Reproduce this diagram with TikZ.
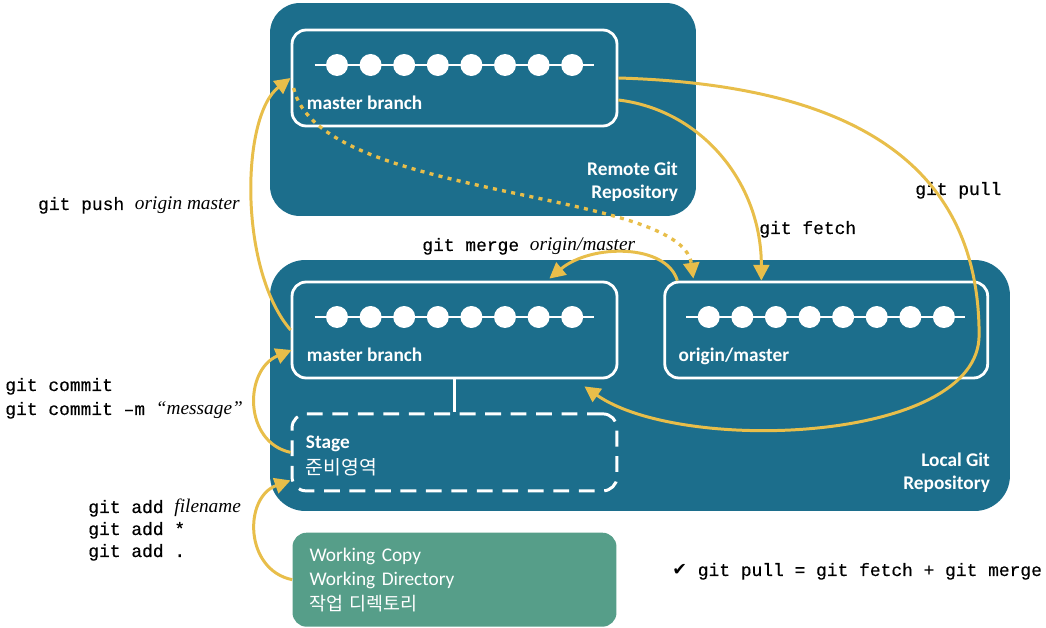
\documentclass[tikz,border=0pt]{standalone}
\usepackage{fontspec}
\setmainfont{Carlito}
\newfontfamily\codefont{Liberation Mono}[FakeBold=0.3]
\newfontfamily\argfont{Liberation Serif}
\newfontfamily\hangul{Noto Sans CJK KR}
\newfontfamily\symfont{DejaVu Sans}
\usetikzlibrary{positioning}
\usetikzlibrary{calc}
\usetikzlibrary{arrows.meta}
\definecolor{repoblue}{RGB}{28,110,140}
\definecolor{workgreen}{RGB}{86,158,137}
\definecolor{gityellow}{RGB}{232,190,74}
\tikzstyle{repo} = [rectangle, fill=repoblue, inner sep=0]
\tikzstyle{branch} = [rectangle, rounded corners=8pt, draw=white, line width=1.6pt, minimum width=6.5cm, minimum height=1.92cm, inner sep=0]
\tikzstyle{stagebox} = [rectangle, rounded corners=8pt, draw=white, line width=1.7pt, dash pattern=on 9pt off 5.5pt, minimum width=6.5cm, minimum height=1.54cm, inner sep=0]
\tikzstyle{workbox} = [rectangle, rounded corners=8pt, fill=workgreen, text=white, minimum height=1.88cm, inner xsep=0.34cm, align=left, text width=5.8cm]
\tikzstyle{boxlabel} = [inner sep=0, anchor=base west, text=white, font=\bfseries\fontsize{11}{13}\selectfont]
\tikzstyle{repolabel} = [inner sep=0, anchor=east, align=right, text=white, font=\bfseries\fontsize{11}{13}\selectfont]
\tikzstyle{cmd} = [inner sep=0, anchor=base west]
\tikzstyle{gitflow} = [draw=gityellow, line width=1.7pt, -{Triangle[length=9pt,width=9pt]}]
\tikzstyle{syncflow} = [gitflow, line width=1.9pt, dash pattern=on 2.3pt off 3pt]
\newcommand{\gitcmd}[1]{{\codefont\fontsize{10.2}{12}\selectfont #1}}
\newcommand{\gitarg}[1]{{\argfont\itshape\fontsize{11}{12}\selectfont #1}}
\newcommand{\commitdots}[1]{%
  \draw[white, line width=0.9pt] ($(#1.center)+(-140,-13)$) -- ($(#1.center)+(139,-13)$);
  \foreach \k in {0,...,7}
    \fill[white] ($(#1.center)+(-117.5+33.6*\k,-13)$) circle (0.22cm);
}

\begin{document}
\begin{tikzpicture}[x=0.02cm, y=-0.02cm]
\useasboundingbox (0,0) rectangle (1046,628);
% repositories
\node[repo, minimum width=8.52cm, minimum height=4.26cm, rounded corners=17pt] (remote) at (483,109.5) {};
\node[repo, minimum width=14.8cm, minimum height=5.02cm, rounded corners=20pt] (local) at (640,385.5) {};
\node[repolabel] (remotename) at ($(remote.south east)+(-18,-35)$) {Remote Git\\Repository};
\node[repolabel] (localname) at ($(local.south east)+(-20,-39)$) {Local Git\\Repository};
% branches
\node[branch] (rmaster) at (454.5,78) {};
\node[branch] (lmaster) at (454.5,330) {};
\node[branch, right=0.9cm of lmaster, minimum width=6.46cm] (omaster) {};
\node[stagebox, below=0.66cm of lmaster] (stage) {};
\node[workbox, below=0.8cm of stage, font=\fontsize{11}{14}\selectfont] (working) {Working Copy\\Working Directory\\{\hangul\fontsize{10.5}{14}\selectfont 작업 디렉토리}};
\draw[white, line width=1.6pt] (lmaster.south) -- (stage.north);
\commitdots{rmaster}
\commitdots{lmaster}
\commitdots{omaster}
\node[boxlabel] (rmastername) at ($(rmaster.south west)+(16,-18)$) {master branch};
\node[boxlabel] (lmastername) at ($(lmaster.south west)+(16,-18)$) {master branch};
\node[boxlabel] (omastername) at ($(omaster.south west)+(15,-18)$) {origin/master};
\node[boxlabel] (stagename) at ($(stage.north west)+(15,36)$) {Stage};
\node[boxlabel, font=\hangul\fontsize{11}{13}\selectfont] (stagekr) at ($(stage.north west)+(15,62)$) {준비영역};
% commands
\node[cmd, anchor=base east] (pushcmd) at (240,210) {\gitcmd{git push }\gitarg{origin master}};
\node[cmd] (commitcmd) at (5,391) {\gitcmd{git commit}};
\node[cmd] (commitmsg) at (5,415) {\gitcmd{git commit –m }\gitarg{“message”}};
\node[cmd] (addfile) at (88,513) {\gitcmd{git add }\gitarg{filename}};
\node[cmd] (addstar) at (88,535) {\gitcmd{git add *}};
\node[cmd] (adddot) at (88,557) {\gitcmd{git add .}};
\node[cmd] (mergecmd) at (422,251) {\gitcmd{git merge }\gitarg{origin/master}};
\node[cmd] (fetchcmd) at (759,234) {\gitcmd{git fetch}};
\node[cmd] (pullcmd) at (915,195) {\gitcmd{git pull}};
\node[cmd] (pullnote) at (672,576) {{\symfont\fontsize{10}{12}\selectfont ✔}\gitcmd{~git pull = git fetch + git merge}};
% flows
\draw[gitflow] (lmaster.west) .. controls +(-52,-60) and +(-50,38) .. (rmaster.west);
\draw[gitflow] (stage.west) .. controls +(-47,-10) and +(-48,20) .. ($(lmaster.west)+(1,20)$);
\draw[gitflow] (working.west) .. controls +(-48,-10) and +(-47,17) .. ($(stage.west)+(0,28)$);
\draw[gitflow] ($(rmaster.east)+(0,22)$) .. controls +(83,10) and +(0,-98) .. ($(omaster.north west)+(98,0)$);
\draw[gitflow] (rmaster.east) .. controls +(243,7) and +(0,-165) .. ($(omaster.east)+(-10,5)$)
   .. controls +(0,108) and +(97,68) .. ($(lmaster.south east)+(-34,7)$);
\draw[gitflow] ($(omaster.north west)+(14,0)$) .. controls +(-11,-37) and +(42,-35) .. ($(lmaster.north east)+(-69,-2)$);
\draw[syncflow] ($(rmaster.west)+(3,10)$) .. controls +(25,112) and +(-12,-90) .. ($(omaster.north west)+(30,-2)$);
\end{tikzpicture}
\end{document}
